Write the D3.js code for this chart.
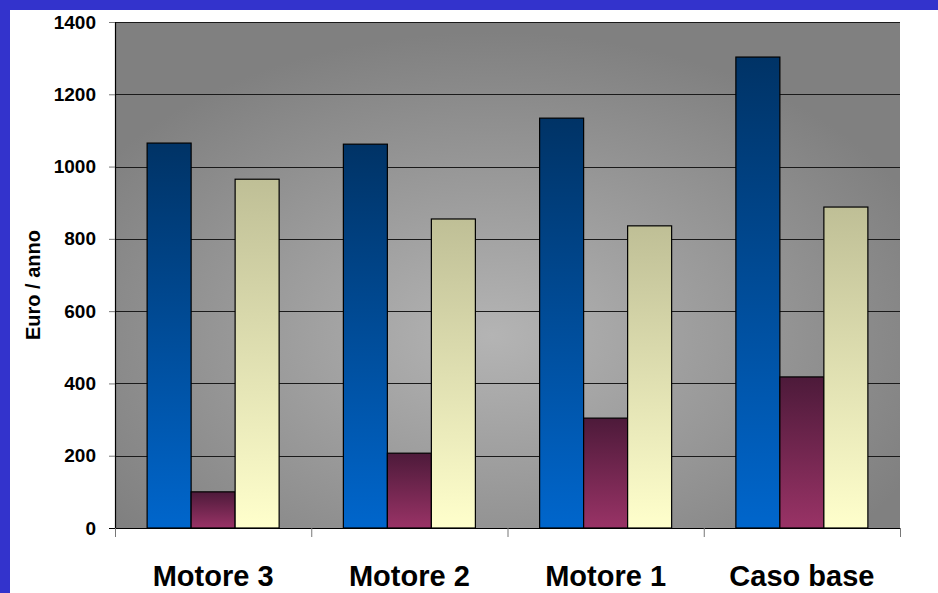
<!DOCTYPE html>
<html>
<head>
<meta charset="utf-8">
<script src="https://cdn.jsdelivr.net/npm/d3@7"></script>
<style>
  html, body { margin: 0; padding: 0; background: #3333cc; }
  #chart { position: absolute; left: 10px; top: 10px; width: 928px; height: 583px; background: #ffffff; }
  text { font-family: Arial, "Liberation Sans", sans-serif; font-weight: bold; }
</style>
</head>
<body>
<div id="chart"></div>
<script>
// Chart values
const categories = ["Motore 3", "Motore 2", "Motore 1", "Caso base"];
const seriesNames = ["blue", "maroon", "yellow"];
const blueValues = [1065, 1062, 1134, 1303];
const maroonValues = [100, 207, 304, 418];
const yellowValues = [965, 855, 836, 888];
const yTicks = [0, 200, 400, 600, 800, 1000, 1200, 1400];

// colours (top -> bottom of each bar)
const gradients = {
  blue:   ["#003366", "#0066cc"],
  maroon: ["#4d1a3a", "#993366"],
  yellow: ["#bfbf96", "#ffffcc"]
};

const width = 928, height = 583;
// plot area inside the white box
const margins = {top: 12, bottom: 65, right: 38, left: 105};
const plotW = width - margins.left - margins.right;
const plotH = height - margins.top - margins.bottom;

const data = categories.map((c, i) => ({
  category: c,
  values: [blueValues[i], maroonValues[i], yellowValues[i]]
}));

const svg = d3.select("#chart").append("svg")
  .attr("width", width)
  .attr("height", height);

const defs = svg.append("defs");

// grey plot background, lighter in the middle
const bg = defs.append("radialGradient")
  .attr("id", "bg")
  .attr("cx", "48%").attr("cy", "62%").attr("r", "60%")
  .attr("fx", "48%").attr("fy", "62%");
bg.append("stop").attr("offset", "0%").attr("stop-color", "#b4b4b4");
bg.append("stop").attr("offset", "100%").attr("stop-color", "#808080");

seriesNames.forEach(name => {
  const g = defs.append("linearGradient")
    .attr("id", "grad-" + name)
    .attr("x1", 0).attr("y1", 0).attr("x2", 0).attr("y2", 1);
  g.append("stop").attr("offset", "0%").attr("stop-color", gradients[name][0]);
  g.append("stop").attr("offset", "100%").attr("stop-color", gradients[name][1]);
});

const plot = svg.append("g")
  .attr("transform", "translate(" + margins.left + "," + margins.top + ")");

const x = d3.scaleBand()
  .domain(categories)
  .range([0, plotW])
  .paddingInner(0)
  .paddingOuter(0);

// three bars of ~44px in each 196px category
const x1 = d3.scaleBand()
  .domain(seriesNames)
  .range([0, x.bandwidth()])
  .paddingOuter(0.73)
  .paddingInner(0);

const y = d3.scaleLinear()
  .domain([0, 1400])
  .range([plotH, 0]);

plot.append("rect")
  .attr("width", plotW)
  .attr("height", plotH)
  .attr("fill", "url(#bg)");

// gridlines
plot.selectAll(".grid")
  .data(yTicks.slice(1))
  .enter().append("line")
  .attr("x1", 0).attr("x2", plotW)
  .attr("y1", d => Math.round(y(d)) + 0.5)
  .attr("y2", d => Math.round(y(d)) + 0.5)
  .attr("stroke", "#1a1a1a")
  .attr("stroke-width", 1.2);

// bars
const groups = plot.selectAll(".group")
  .data(data)
  .enter().append("g")
  .attr("transform", d => "translate(" + x(d.category) + ",0)");

groups.selectAll("rect")
  .data(d => d.values.map((v, i) => ({name: seriesNames[i], value: v})))
  .enter().append("rect")
  .attr("x", d => x1(d.name))
  .attr("y", d => y(d.value))
  .attr("width", x1.bandwidth())
  .attr("height", d => plotH - y(d.value))
  .attr("fill", d => "url(#grad-" + d.name + ")")
  .attr("stroke", "#000")
  .attr("stroke-width", 1.2);

// y axis
const yAxis = plot.append("g")
  .call(d3.axisLeft(y).tickValues(yTicks).tickSize(6).tickPadding(13).tickFormat(d3.format("d")));
yAxis.select(".domain").attr("stroke", "#000").attr("stroke-width", 1.2);
yAxis.selectAll(".tick line").attr("stroke", "#777");
yAxis.selectAll("text")
  .attr("font-size", 19)
  .attr("font-family", "Arial, 'Liberation Sans', sans-serif")
  .attr("font-weight", "bold")
  .attr("fill", "#000");

// x axis
const xAxis = plot.append("g")
  .attr("transform", "translate(0," + plotH + ")");
xAxis.append("line")
  .attr("x1", -6).attr("x2", plotW)
  .attr("y1", 0.5).attr("y2", 0.5)
  .attr("stroke", "#000");
xAxis.selectAll(".xtick")
  .data(d3.range(categories.length + 1))
  .enter().append("line")
  .attr("x1", i => i * x.bandwidth() + 0.5)
  .attr("x2", i => i * x.bandwidth() + 0.5)
  .attr("y1", 0).attr("y2", 9)
  .attr("stroke", "#777");
xAxis.selectAll(".xlabel")
  .data(categories)
  .enter().append("text")
  .attr("x", d => x(d) + x.bandwidth() / 2)
  .attr("y", 58)
  .attr("text-anchor", "middle")
  .attr("font-size", 29)
  .attr("fill", "#000")
  .text(d => d);

// y title
svg.append("text")
  .attr("transform", "translate(30," + (margins.top + plotH / 2 + 10) + ") rotate(-90)")
  .attr("text-anchor", "middle")
  .attr("font-size", 20)
  .attr("fill", "#000")
  .text("Euro / anno");
</script>
</body>
</html>
